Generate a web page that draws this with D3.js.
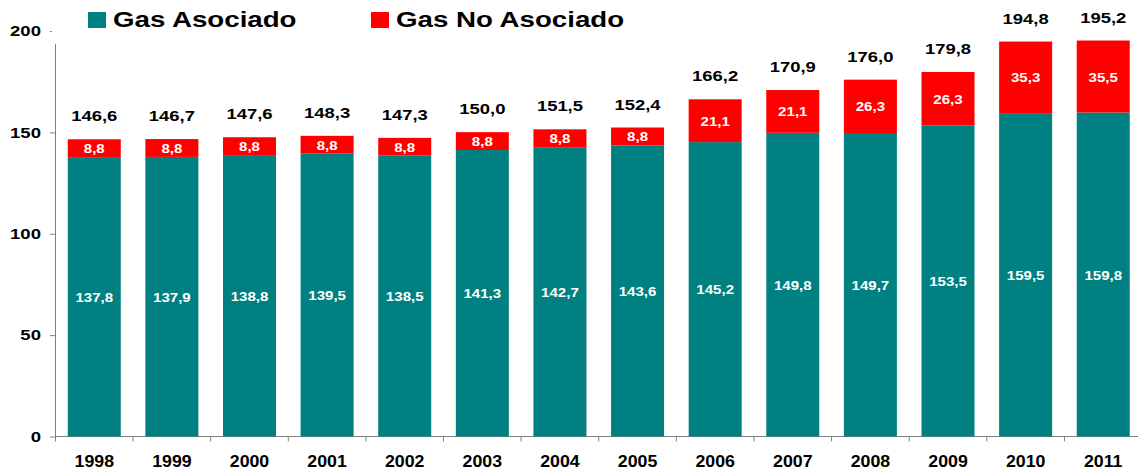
<!DOCTYPE html>
<html>
<head>
<meta charset="utf-8">
<script src="https://cdn.jsdelivr.net/npm/d3@7"></script>
<style>
  body { margin: 0; background: #fff; }
  text { font-family: "Liberation Sans", Arial, sans-serif; font-weight: bold; }
  .axis path, .axis line { stroke: #808080; }
</style>
</head>
<body>
<div id="chart"></div>
<script>
// data
var years = ["1998", "1999", "2000", "2001", "2002", "2003", "2004",
             "2005", "2006", "2007", "2008", "2009", "2010", "2011"];
var asociado = [137.8, 137.9, 138.8, 139.5, 138.5, 141.3, 142.7,
                143.6, 145.2, 149.8, 149.7, 153.5, 159.5, 159.8];
var noAsociado = [8.8, 8.8, 8.8, 8.8, 8.8, 8.8, 8.8,
                  8.8, 21.1, 21.1, 26.3, 26.3, 35.3, 35.5];
var totals = ["146,6", "146,7", "147,6", "148,3", "147,3", "150,0", "151,5",
              "152,4", "166,2", "170,9", "176,0", "179,8", "194,8", "195,2"];
var yTicks = [0, 50, 100, 150, 200];
var seriesNames = ["Gas Asociado", "Gas No Asociado"];
var colors = ["#008080", "#ff0000"];

var width = 1138, height = 473;

var svg = d3.select("#chart").append("svg")
  .attr("width", width)
  .attr("height", height);

var x = d3.scaleBand().domain(years).range([55.5, 1142]).paddingInner(0.317).paddingOuter(0.158);
var y = d3.scaleLinear().domain([0, 200]).range([436.5, 31]);

var fmt = function(v) { return d3.format(".1f")(v).replace(".", ","); };

// the original text is drawn a bit wider than the font, so stretch it
function stretch(sel, sx) {
  sel.each(function() {
    var t = d3.select(this);
    var tx = +t.attr("x") || 0, ty = +t.attr("y") || 0;
    t.attr("x", 0).attr("y", 0)
      .attr("transform", "translate(" + tx + "," + ty + ") scale(" + sx + ",1)");
  });
}

var rows = years.map(function(yr, i) {
  return {year: yr, a: asociado[i], b: noAsociado[i], total: totals[i]};
});

// Y axis
var yAxis = svg.append("g")
  .attr("class", "axis")
  .attr("transform", "translate(55,0)")
  .call(d3.axisLeft(y).tickValues(yTicks).tickSize(5).tickSizeOuter(0).tickPadding(9));
yAxis.selectAll("text").attr("font-size", 14.5).attr("fill", "#000");
stretch(yAxis.selectAll("text"), 1.28);

// X axis (ticks between categories)
var xAxis = svg.append("g")
  .attr("class", "axis")
  .attr("transform", "translate(0," + y(0) + ")");
xAxis.append("line")
  .attr("x1", 55).attr("x2", width)
  .attr("stroke", "#808080");
xAxis.selectAll(".tk").data(years).enter().append("line")
  .attr("class", "tk")
  .attr("x1", function(d) { return x(d) - x.step() * x.paddingInner() / 2; })
  .attr("x2", function(d) { return x(d) - x.step() * x.paddingInner() / 2; })
  .attr("y1", 0).attr("y2", 5)
  .attr("stroke", "#808080");
var yearLbl = xAxis.selectAll(".lbl").data(years).enter().append("text")
  .attr("class", "lbl")
  .attr("x", function(d) { return x(d) + x.bandwidth() / 2; })
  .attr("y", 30)
  .attr("text-anchor", "middle")
  .attr("font-size", 16)
  .text(function(d) { return d; });
stretch(yearLbl, 1.11);

// bars
var g = svg.selectAll(".bar").data(rows).enter().append("g").attr("class", "bar");

g.append("rect")
  .attr("x", function(d) { return x(d.year); })
  .attr("width", x.bandwidth())
  .attr("y", function(d) { return y(d.a); })
  .attr("height", function(d) { return y(0) - y(d.a); })
  .attr("fill", colors[0]);

g.append("rect")
  .attr("x", function(d) { return x(d.year); })
  .attr("width", x.bandwidth())
  .attr("y", function(d) { return y(d.a + d.b); })
  .attr("height", function(d) { return y(d.a) - y(d.a + d.b); })
  .attr("fill", colors[1]);

// labels inside segments
var inA = g.append("text")
  .attr("x", function(d) { return x(d.year) + x.bandwidth() / 2; })
  .attr("y", function(d) { return (y(0) + y(d.a)) / 2 + 5; })
  .attr("text-anchor", "middle")
  .attr("font-size", 13)
  .attr("fill", "#fff")
  .text(function(d) { return fmt(d.a); });
stretch(inA, 1.16);

var inB = g.append("text")
  .attr("x", function(d) { return x(d.year) + x.bandwidth() / 2; })
  .attr("y", function(d) { return (y(d.a) + y(d.a + d.b)) / 2 + 5; })
  .attr("text-anchor", "middle")
  .attr("font-size", 13)
  .attr("fill", "#fff")
  .text(function(d) { return fmt(d.b); });
stretch(inB, 1.16);

// totals above bars
var tot = g.append("text")
  .attr("x", function(d) { return x(d.year) + x.bandwidth() / 2; })
  .attr("y", function(d) { return y(d.a + d.b) - 18; })
  .attr("text-anchor", "middle")
  .attr("font-size", 15.5)
  .attr("fill", "#000")
  .text(function(d) { return d.total; });
stretch(tot, 1.19);

// legend (white box covers top of the axis line)
var legend = svg.append("g");
legend.append("rect")
  .attr("x", 52).attr("y", 0).attr("width", 620).attr("height", 44)
  .attr("fill", "#fff");
var items = legend.selectAll(".item").data(seriesNames).enter().append("g")
  .attr("class", "item")
  .attr("transform", function(d, i) { return "translate(" + (88 + i * 283) + ",0)"; });
items.append("rect")
  .attr("x", 0).attr("y", 12).attr("width", 18).attr("height", 16)
  .attr("fill", function(d, i) { return colors[i]; });
var legText = items.append("text")
  .attr("x", 25).attr("y", 26.5)
  .attr("font-size", 22.5)
  .attr("fill", "#000")
  .text(function(d) { return d; });
stretch(legText, 1.23);
</script>
</body>
</html>
